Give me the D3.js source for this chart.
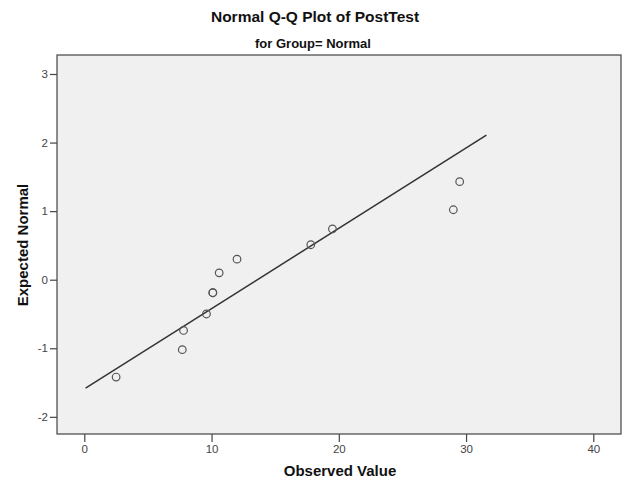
<!DOCTYPE html>
<html>
<head>
<meta charset="utf-8">
<script src="https://cdn.jsdelivr.net/npm/d3@7"></script>
<style>
  body { margin: 0; background: #fff; }
  svg { display: block; font-family: "Liberation Sans", Arial, sans-serif; }
</style>
</head>
<body>
<svg id="chart" width="623" height="482"></svg>
<script>
// Data
const observed = [2.5, 7.7, 7.8, 9.6, 10.1, 10.1, 10.6, 12.0, 17.8, 19.5, 29.0, 29.5];
const expected = [-1.42, -1.02, -0.74, -0.50, -0.19, -0.19, 0.10, 0.30, 0.51, 0.74, 1.02, 1.43];
const xTicks = [0, 10, 20, 30, 40];
const yTicks = [-2, -1, 0, 1, 2, 3];
const lineXRange = [0.1, 31.6];   // observed-value extent of reference line
const lineMean = 13.6, lineSD = 8.54;
const title = "Normal Q-Q Plot of PostTest";
const subtitle = "for Group= Normal";
const xLabel = "Observed Value";
const yLabel = "Expected Normal";

const svg = d3.select("#chart");
const L = 57, T = 55, R = 621, B = 434;

const x = d3.scaleLinear().domain([0, 40]).range([84.3, 593.3]);
const y = d3.scaleLinear().domain([0, 3]).range([279.7, 74]);

// plot background + frame
svg.append("rect").attr("x", L).attr("y", T).attr("width", R - L).attr("height", B - T)
  .attr("fill", "#f0f0f0").attr("stroke", "#444").attr("stroke-width", 1.2);

const fmt = d => String(d);

// axes
const xAxis = d3.axisBottom(x).tickValues(xTicks).tickFormat(fmt).tickSize(8).tickPadding(3);
const gx = svg.append("g").attr("transform", `translate(0,${B})`).call(xAxis);
gx.select(".domain").remove();
gx.selectAll("line").attr("stroke", "#444").attr("stroke-width", 1.2);
gx.selectAll("text").attr("font-size", 11.5).attr("fill", "#444")
  .attr("font-family", "'Liberation Sans', Arial, sans-serif");

const yAxis = d3.axisLeft(y).tickValues(yTicks).tickFormat(fmt).tickSize(7).tickPadding(2);
const gy = svg.append("g").attr("transform", `translate(${L},0)`).call(yAxis);
gy.select(".domain").remove();
gy.selectAll("line").attr("stroke", "#444").attr("stroke-width", 1.2);
gy.selectAll("text").attr("font-size", 11.5).attr("fill", "#444")
  .attr("font-family", "'Liberation Sans', Arial, sans-serif");

// reference line
const lineData = lineXRange.map(v => [v, (v - lineMean) / lineSD]);
svg.append("path")
  .datum(lineData)
  .attr("d", d3.line().x(d => x(d[0])).y(d => y(d[1])))
  .attr("stroke", "#333").attr("stroke-width", 1.5).attr("fill", "none");

// points
svg.append("g").selectAll("circle")
  .data(observed.map((v, i) => [v, expected[i]]))
  .join("circle")
  .attr("cx", d => x(d[0])).attr("cy", d => y(d[1])).attr("r", 3.8)
  .attr("fill", "none").attr("stroke", "#555").attr("stroke-width", 1.2);

// titles
svg.append("text").attr("x", 315).attr("y", 22).attr("text-anchor", "middle")
  .attr("font-size", 15.5).attr("font-weight", "bold").attr("fill", "#111").text(title);
svg.append("text").attr("x", 313).attr("y", 48).attr("text-anchor", "middle")
  .attr("font-size", 13).attr("font-weight", "bold").attr("fill", "#111").text(subtitle);

svg.append("text").attr("x", 340).attr("y", 476).attr("text-anchor", "middle")
  .attr("font-size", 15).attr("font-weight", "bold").attr("fill", "#111").text(xLabel);
svg.append("text").attr("transform", "translate(28,245) rotate(-90)").attr("text-anchor", "middle")
  .attr("font-size", 15).attr("font-weight", "bold").attr("fill", "#111").text(yLabel);
</script>
</body>
</html>
